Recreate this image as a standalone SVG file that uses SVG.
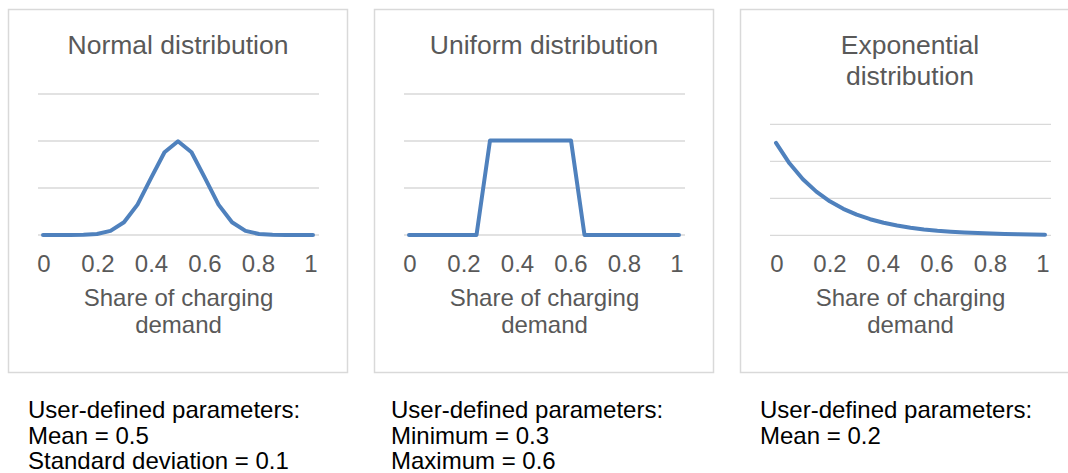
<svg xmlns="http://www.w3.org/2000/svg" width="1068" height="473" viewBox="0 0 1068 473">
<style>
.box{fill:#fff;stroke:#d9d9d9;stroke-width:1.5}
.grid{stroke:#d9d9d9;stroke-width:1.3;fill:none}
.curve{fill:none;stroke:#4f81bd;stroke-width:4;stroke-linejoin:round;stroke-linecap:round}
.title{font-family:"Liberation Sans",Arial,sans-serif;font-size:26.5px;fill:#595959;text-anchor:middle}
.ax{font-family:"Liberation Sans",Arial,sans-serif;font-size:24px;fill:#595959;text-anchor:middle}
.par{font-family:"Liberation Sans",Arial,sans-serif;font-size:24px;fill:#000}
</style>
<rect width="1068" height="473" fill="#fff"/>
<g id="normal">
<rect class="box" x="8.5" y="9.5" width="339" height="363"/>
<text class="title" x="178" y="54">Normal distribution</text>
<path class="grid" d="M38 94H319M38 141H319M38 188H319M38 235H319"/>
<polyline class="curve" points="43,235 56.5,235 70,235 83.5,234.8 97,234 110.5,230.9 124,222.3 137.5,204.6 151,178.1 164.5,152.3 178,141.3 191.5,152.3 205,178.1 218.5,204.6 232,222.3 245.5,230.9 259,234 272.5,234.8 286,235 299.5,235 313,235"/>
<text class="ax" x="44" y="272">0</text>
<text class="ax" x="98" y="272">0.2</text>
<text class="ax" x="151.5" y="272">0.4</text>
<text class="ax" x="205" y="272">0.6</text>
<text class="ax" x="258.5" y="272">0.8</text>
<text class="ax" x="311" y="272">1</text>
<text class="ax" x="178.5" y="306">Share of charging</text>
<text class="ax" x="178.5" y="333">demand</text>
</g>
<g id="uniform">
<rect class="box" x="374.5" y="9.5" width="339" height="363"/>
<text class="title" x="544" y="54">Uniform distribution</text>
<path class="grid" d="M404 94H685M404 141H685M404 188H685M404 235H685"/>
<polyline class="curve" points="409,235 476.5,235 490,140.5 571,140.5 584.5,235 679,235"/>
<text class="ax" x="410" y="272">0</text>
<text class="ax" x="464" y="272">0.2</text>
<text class="ax" x="517.5" y="272">0.4</text>
<text class="ax" x="571" y="272">0.6</text>
<text class="ax" x="624.5" y="272">0.8</text>
<text class="ax" x="677" y="272">1</text>
<text class="ax" x="544.5" y="306">Share of charging</text>
<text class="ax" x="544.5" y="333">demand</text>
</g>
<g id="exponential">
<rect class="box" x="740.5" y="9.5" width="339" height="363"/>
<text class="title" x="910" y="54">Exponential</text>
<text class="title" x="910" y="85">distribution</text>
<path class="grid" d="M770 124.3H1051M770 161.3H1051M770 198.3H1051M770 235.3H1051"/>
<polyline class="curve" points="776,142.8 789.45,163.3 802.9,179.2 816.35,191.6 829.8,201.3 843.25,208.8 856.7,214.7 870.15,219.2 883.6,222.8 897.05,225.55 910.5,227.7 923.95,229.4 937.4,230.7 950.85,231.7 964.3,232.5 977.75,233.1 991.2,233.6 1004.65,234 1018.1,234.3 1031.55,234.5 1045,234.7"/>
<text class="ax" x="777" y="272">0</text>
<text class="ax" x="830" y="272">0.2</text>
<text class="ax" x="883.5" y="272">0.4</text>
<text class="ax" x="937" y="272">0.6</text>
<text class="ax" x="990.5" y="272">0.8</text>
<text class="ax" x="1043" y="272">1</text>
<text class="ax" x="910.5" y="306">Share of charging</text>
<text class="ax" x="910.5" y="333">demand</text>
</g>
<g id="params">
<text class="par" x="28" y="418">User-defined parameters:</text>
<text class="par" x="28" y="443.5">Mean = 0.5</text>
<text class="par" x="28" y="469">Standard deviation = 0.1</text>
<text class="par" x="391" y="418">User-defined parameters:</text>
<text class="par" x="391" y="443.5">Minimum = 0.3</text>
<text class="par" x="391" y="469">Maximum = 0.6</text>
<text class="par" x="760" y="418">User-defined parameters:</text>
<text class="par" x="760" y="443.5">Mean = 0.2</text>
</g>
<g id="connectors"/>
</svg>
